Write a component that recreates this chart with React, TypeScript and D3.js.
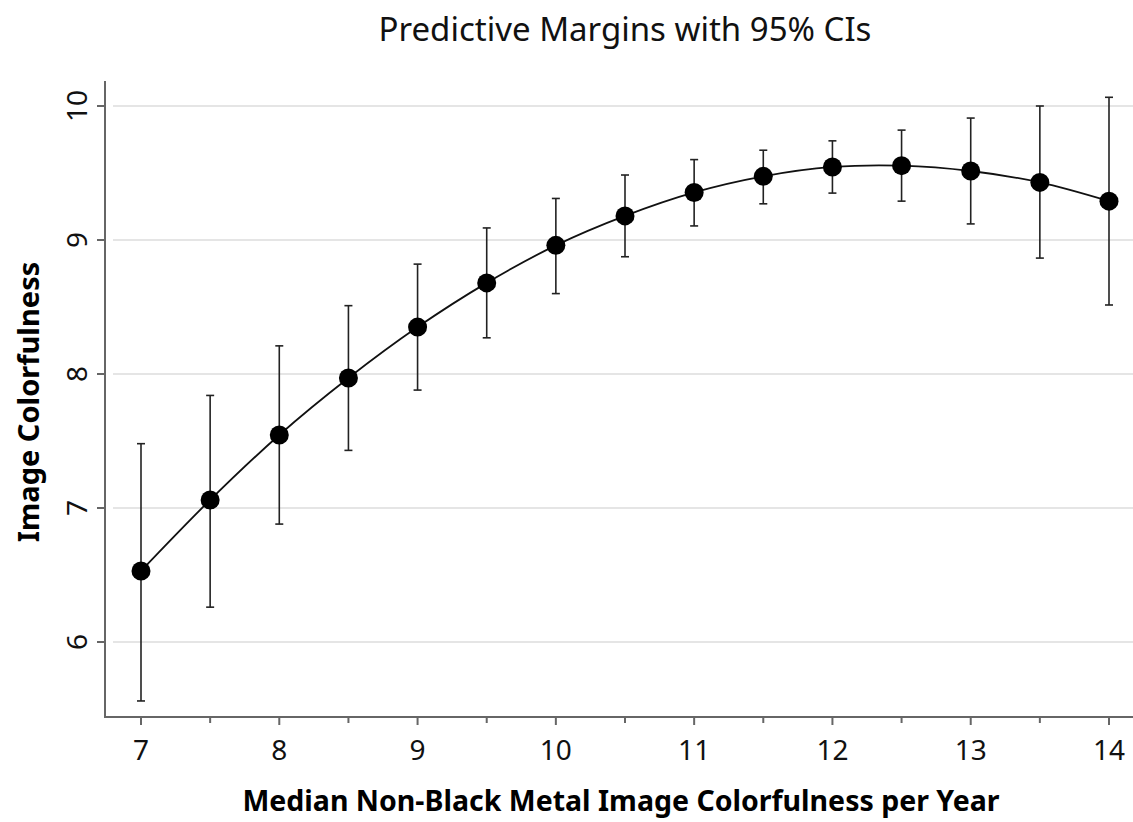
import React from 'react';
import * as d3 from 'd3';

// predictive margins
const xValues = [7, 7.5, 8, 8.5, 9, 9.5, 10, 10.5, 11, 11.5, 12, 12.5, 13, 13.5, 14];
const margins = [6.53, 7.06, 7.545, 7.97, 8.35, 8.68, 8.96, 9.18, 9.355, 9.475, 9.545, 9.555, 9.515, 9.43, 9.29];
const ciLow = [5.56, 6.26, 6.88, 7.43, 7.88, 8.27, 8.6, 8.875, 9.105, 9.27, 9.35, 9.29, 9.12, 8.865, 8.515];
const ciHigh = [7.48, 7.84, 8.21, 8.51, 8.82, 9.09, 9.31, 9.485, 9.6, 9.67, 9.74, 9.82, 9.91, 10.0, 10.065];
const xTicks = [7, 8, 9, 10, 11, 12, 13, 14];
const xMinorTicks = [7.5, 8.5, 9.5, 10.5, 11.5, 12.5, 13.5];
const yTicks = [6, 7, 8, 9, 10];

const W = 1133;
const H = 822;
const font = '"Noto Sans", "Open Sans", sans-serif';

export default function App() {
  const x = d3.scaleLinear().domain([7, 14]).range([141, 1109]);
  const y = d3.scaleLinear().domain([6, 10]).range([642, 106]);
  const axisY = 717;
  const axisX = 105;

  const pts: [number, number][] = xValues.map((v, i) => [x(v), y(margins[i])]);
  const line = d3.line().curve(d3.curveCatmullRom)(pts) || '';

  return (
    <svg width={W} height={H} style={{ position: 'absolute', left: 0, top: 0, background: '#fff' }}>
      <rect width={W} height={H} fill="#fff" />
      <text x={625} y={41} textAnchor="middle" fontFamily={font} fontSize={33} fill="#111">
        Predictive Margins with 95% CIs
      </text>

      {yTicks.map(t => (
        <line key={'g' + t} x1={113} x2={W} y1={y(t)} y2={y(t)} stroke="#dcdcdc" strokeWidth={1.5} />
      ))}

      <line x1={axisX} x2={axisX} y1={81} y2={axisY + 1} stroke="#666" strokeWidth={2} />
      <line x1={axisX - 1} x2={W} y1={axisY} y2={axisY} stroke="#666" strokeWidth={2} />

      {yTicks.map(t => (
        <g key={'yt' + t}>
          <line x1={axisX - 8} x2={axisX} y1={y(t)} y2={y(t)} stroke="#666" strokeWidth={2} />
          <text
            transform={`translate(${axisX - 18},${y(t)}) rotate(-90)`}
            textAnchor="middle"
            fontFamily={font}
            fontSize={28}
            fill="#111"
          >
            {t}
          </text>
        </g>
      ))}

      {xTicks.map(t => (
        <g key={'xt' + t}>
          <line x1={x(t)} x2={x(t)} y1={axisY} y2={axisY + 8} stroke="#666" strokeWidth={2} />
          <text x={x(t)} y={axisY + 43} textAnchor="middle" fontFamily={font} fontSize={28} fill="#111">
            {t}
          </text>
        </g>
      ))}
      {xMinorTicks.map(t => (
        <line key={'xm' + t} x1={x(t)} x2={x(t)} y1={axisY} y2={axisY + 6} stroke="#666" strokeWidth={2} />
      ))}

      {xValues.map((v, i) => (
        <g key={'ci' + v} stroke="#222" strokeWidth={1.6}>
          <line x1={x(v)} x2={x(v)} y1={y(ciLow[i])} y2={y(ciHigh[i])} />
          <line x1={x(v) - 4} x2={x(v) + 4} y1={y(ciLow[i])} y2={y(ciLow[i])} />
          <line x1={x(v) - 4} x2={x(v) + 4} y1={y(ciHigh[i])} y2={y(ciHigh[i])} />
        </g>
      ))}

      <path d={line} fill="none" stroke="#111" strokeWidth={1.8} />

      {pts.map((p, i) => (
        <circle key={'pt' + i} cx={p[0]} cy={p[1]} r={9.5} fill="#000" />
      ))}

      <text x={621} y={811} textAnchor="middle" fontFamily={font} fontSize={28.5} fontWeight={700} fill="#000">
        Median Non-Black Metal Image Colorfulness per Year
      </text>
      <text
        transform="translate(39,402) rotate(-90)"
        textAnchor="middle"
        fontFamily={font}
        fontSize={29}
        fontWeight={700}
        fill="#000"
      >
        Image Colorfulness
      </text>
    </svg>
  );
}
